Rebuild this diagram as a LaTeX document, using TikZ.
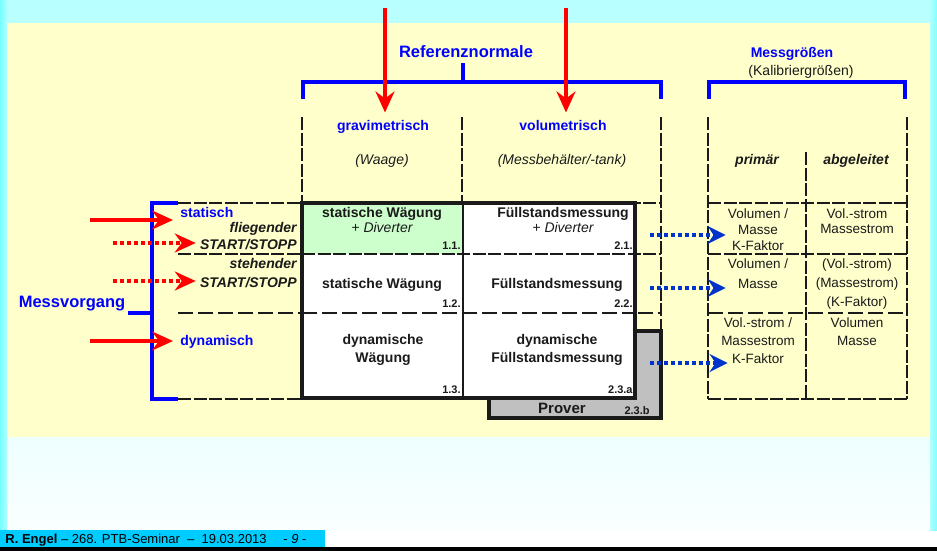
\documentclass[tikz,border=0pt]{standalone}
\usepackage{fontspec}
\setmainfont{Liberation Sans}
\usetikzlibrary{arrows.meta}
\definecolor{panel}{HTML}{FFFFCC}
\definecolor{refblue}{HTML}{0000FF}
\definecolor{dotblue}{HTML}{0033CC}
\definecolor{cellgreen}{HTML}{CCFFCC}
\definecolor{provergray}{HTML}{C0C0C0}
\definecolor{footbar}{HTML}{00CCFF}
\definecolor{ink}{HTML}{1A1A1A}
\newcommand\fsz[2]{\fontsize{#1}{#2}\selectfont}

\begin{document}
\begin{tikzpicture}[x=1pt,y=-1pt,line width=.8pt,
  gridline/.style={ink,line width=1.6pt,dash pattern=on 13pt off 2.5pt},
  thickgrid/.style={ink,line width=2.6pt,dash pattern=on 15pt off 5pt},
  bluebrace/.style={refblue,line width=3.5pt},
  boxframe/.style={ink,line width=3.5pt},
  redarrow/.style={red,line width=3.5pt,-{Stealth[length=21pt,width=19pt,inset=7pt]}},
  reddots/.style={redarrow,dash pattern=on 4pt off 3pt},
  bluedots/.style={dotblue,line width=3.5pt,dash pattern=on 4pt off 3pt,-{Stealth[length=18pt,width=18pt,inset=6pt]}},
  lbl/.style={inner sep=0pt,anchor=base,text=ink},
  bluehead/.style={lbl,text=refblue,font=\fsz{14}{16}\bfseries},
  ital/.style={lbl,font=\fsz{14}{16}\itshape},
  boldit/.style={lbl,font=\fsz{14}{16}\bfseries\itshape},
  cell/.style={lbl,align=center,font=\fsz{14}{18}\bfseries},
  nr/.style={inner sep=0pt,anchor=base east,text=ink,font=\fsz{11}{12}\bfseries},
  val/.style={lbl,align=center,font=\fsz{13.5}{#1}},
]
\useasboundingbox (0,0) rectangle (937,551);
% background
\shade[top color=cyan!28,bottom color=cyan!2] (0,0) rectangle (937,530);
\shade[left color=cyan!55,right color=cyan!30] (0,0) rectangle (7,530);
\shade[left color=cyan!30,right color=cyan!50] (930,0) rectangle (937,530);
\fill[panel] (7,23) rectangle (930,437);
\fill[footbar] (0,530) rectangle (325,547);
\fill[black] (0,547) rectangle (937,551);

% dashed table lines
\draw[gridline] (302,117) -- (302,203);
\draw[gridline] (462,117) -- (462,203);
\draw[gridline] (661,117) -- (661,331);
\draw[gridline] (708,117) -- (708,399);
\draw[gridline] (806,152) -- (806,399);
\draw[gridline] (907,117) -- (907,399);
\draw[gridline] (178,203) -- (661,203) (708,203) -- (907,203);
\draw[gridline] (178,254) -- (661,254) (708,254) -- (907,254);
\draw[thickgrid] (178,313) -- (661,313) (708,313) -- (907,313);
\draw[gridline] (178,399) -- (302,399) (708,399) -- (907,399);

% Prover and the main box
\draw[boxframe,fill=provergray] (489,331) rectangle (661,418);
\fill[white] (302,203) rectangle (635,398);
\fill[cellgreen] (302,203) rectangle (463,254);
\draw[gridline] (302,254) -- (635,254);
\draw[thickgrid] (302,313) -- (635,313);
\draw[ink,line width=1.2pt] (463,203) -- (463,398);
\draw[boxframe] (302,203) rectangle (635,398);

% brackets
\draw[bluebrace] (303,99) -- (303,82) -- (661,82) -- (661,99);
\draw[bluebrace] (463,82) -- (463,63);
\draw[bluebrace] (709,99) -- (709,82) -- (905,82) -- (905,99);
\draw[bluebrace] (178,203) -- (152,203) -- (152,399) -- (178,399);
\coordinate (mvtick) at (152,313);
\draw[bluebrace] (mvtick) -- ++(-24,0);

% headers
\node[lbl,text=refblue,font=\fsz{16.5}{18}\bfseries] (refn) at (466,58) {Referenznormale};
\node[bluehead] (mg) at (792,58) {Messgrößen};
\node[lbl,font=\fsz{14}{16}] (kal) at (801,76) {(Kalibriergrößen)};
\node[bluehead] (grav) at (383,130) {gravimetrisch};
\node[bluehead] (vol) at (563,130) {volumetrisch};
\node[ital] (waage) at (382,164) {(Waage)};
\node[ital] (tank) at (562,164) {(Messbehälter/-tank)};
\node[boldit] (prim) at (757,164) {primär};
\node[boldit] (abg) at (856,164) {abgeleitet};

% Messvorgang
\node[lbl,text=refblue,font=\fsz{16.5}{18}\bfseries] (mv) at (72,307) {Messvorgang};
\node[bluehead,anchor=base west] (stat) at (180,217) {statisch};
\node[boldit,anchor=base east] (flieg) at (297,232) {fliegender};
\node[boldit,anchor=base east] (ss1) at (297,249) {START/STOPP};
\node[boldit,anchor=base east] (steh) at (297,268) {stehender};
\node[boldit,anchor=base east] (ss2) at (297,287) {START/STOPP};
\node[bluehead,anchor=base west] (dyn) at (180,345) {dynamisch};

% cells (base = last line)
\node[cell,font=\fsz{14}{15}\bfseries] (c11) at (382,232) {statische Wägung\\{\mdseries\itshape + Diverter}};
\node[cell,font=\fsz{14}{15}\bfseries] (c21) at (563,232) {Füllstandsmessung\\{\mdseries\itshape + Diverter}};
\node[cell] (c12) at (382,288) {statische Wägung};
\node[cell] (c22) at (557,288) {Füllstandsmessung};
\node[cell] (c13) at (383,362) {dynamische\\Wägung};
\node[cell] (c23) at (557,362) {dynamische\\Füllstandsmessung};
\node[cell,font=\fsz{15}{17}\bfseries] (prov) at (562,413) {Prover};
\node[nr] (n11) at (461,249) {1.1.};
\node[nr] (n21) at (633,249) {2.1.};
\node[nr] (n12) at (461,307) {1.2.};
\node[nr] (n22) at (633,307) {2.2.};
\node[nr] (n13) at (461,393) {1.3.};
\node[nr] (n23a) at (633,393) {2.3.a};
\node[nr] (n23b) at (650,414) {2.3.b};

% measured quantities
\node[val=16] (v11) at (758,250) {Volumen /\\Masse\\K-Faktor};
\node[val=15] (v21) at (857,233) {Vol.-strom\\Massestrom};
\node[val=20] (v12) at (758,288) {Volumen /\\Masse};
\node[val=19] (v22) at (857,306) {(Vol.-strom)\\(Massestrom)\\(K-Faktor)};
\node[val=18] (v13) at (758,363) {Vol.-strom /\\Massestrom\\K-Faktor};
\node[val=18] (v23) at (857,345) {Volumen\\Masse};

% arrows
\coordinate (in1) at (385,8); \coordinate (in2) at (566,8);
\draw[redarrow,shorten >=7pt] (in1) -- (in1 |- grav.north);
\draw[redarrow,shorten >=7pt] (in2) -- (in2 |- vol.north);
\coordinate (s1) at (90,220); \coordinate (s2) at (113,243);
\coordinate (s3) at (113,281); \coordinate (s4) at (90,341);
\draw[redarrow,shorten >=7pt] (s1) -- (s1 -| stat.west);
\draw[reddots,shorten >=4pt] (s2) -- (s2 -| ss1.west);
\draw[reddots,shorten >=4pt] (s3) -- (s3 -| ss2.west);
\draw[redarrow,shorten >=7pt] (s4) -- (s4 -| dyn.west);
\coordinate (b1) at (650,235); \coordinate (b2) at (650,288); \coordinate (b3) at (650,363);
\draw[bluedots,shorten >=2pt] (b1) -- (b1 -| v11.west);
\draw[bluedots,shorten >=2pt] (b2) -- (b2 -| v12.west);
\draw[bluedots] (b3) -- (b3 -| v11.west);

% footer
\node[lbl,anchor=base west,text=black,font=\fsz{13}{15}] (foot) at (5,543)
  {\textbf{R. Engel} – 268. PTB-Seminar\ \ –\ \ 19.03.2013\quad\ - \textit{9} -};
\end{tikzpicture}
\end{document}
